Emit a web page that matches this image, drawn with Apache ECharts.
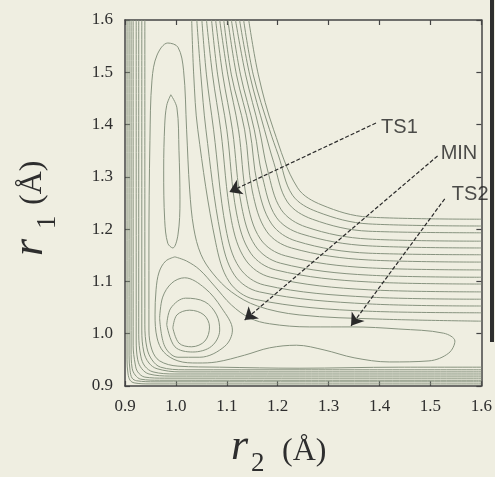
<!DOCTYPE html>
<html>
<head>
<meta charset="utf-8">
<script src="https://cdn.jsdelivr.net/npm/echarts@6/dist/echarts.min.js"></script>
<style>
  html, body { margin: 0; padding: 0; background: #efeee1; }
  #chart { width: 495px; height: 477px; }
</style>
</head>
<body>
<div id="chart"></div>
<script>
// Axis ranges (Å)
const r2Range = [0.9, 1.6];
const r1Range = [0.9, 1.6];
const tickStep = 0.1;

// Repulsive-wall contours wrapping the small-r corner, points as [r2, r1]
const wallContours = [
  [[0.939,1.6],[0.939,1.256],[0.939,1.017],[0.943,0.973],[0.953,0.950],[0.970,0.936],[1.017,0.931],[1.242,0.931],[1.6,0.931]],
  [[0.933,1.6],[0.933,1.256],[0.933,1.007],[0.937,0.965],[0.947,0.944],[0.963,0.933],[1.008,0.927],[1.242,0.927],[1.6,0.927]],
  [[0.927,1.6],[0.927,1.256],[0.927,0.998],[0.931,0.957],[0.939,0.938],[0.955,0.927],[0.998,0.923],[1.242,0.923],[1.6,0.923]],
  [[0.922,1.6],[0.922,1.256],[0.922,0.988],[0.925,0.950],[0.933,0.933],[0.947,0.923],[0.988,0.919],[1.242,0.919],[1.6,0.919]],
  [[0.916,1.6],[0.916,1.256],[0.916,0.978],[0.920,0.942],[0.925,0.927],[0.939,0.917],[0.978,0.915],[1.242,0.915],[1.6,0.915]],
  [[0.912,1.6],[0.912,1.256],[0.912,0.969],[0.914,0.934],[0.920,0.921],[0.931,0.913],[0.968,0.911],[1.242,0.911],[1.6,0.911]],
  [[0.908,1.6],[0.908,1.256],[0.908,0.959],[0.910,0.929],[0.914,0.915],[0.923,0.910],[0.959,0.908],[1.242,0.908],[1.6,0.908]],
  [[0.904,1.6],[0.904,1.256],[0.904,0.950],[0.906,0.923],[0.910,0.911],[0.918,0.906],[0.949,0.904],[1.242,0.904],[1.6,0.904]]
];

// Contours bending round the high plateau at large r1 and r2
const plateauContours = [
  [[1.031,1.6],[1.035,1.495],[1.043,1.390],[1.078,1.175],[1.105,1.099],[1.154,1.066],[1.379,1.043],[1.6,1.040]],
  [[1.041,1.6],[1.049,1.495],[1.059,1.390],[1.088,1.189],[1.115,1.112],[1.164,1.080],[1.379,1.057],[1.6,1.053]],
  [[1.051,1.6],[1.060,1.495],[1.074,1.390],[1.098,1.202],[1.125,1.126],[1.174,1.093],[1.379,1.070],[1.6,1.066]],
  [[1.060,1.6],[1.072,1.495],[1.088,1.390],[1.109,1.217],[1.137,1.141],[1.186,1.108],[1.379,1.084],[1.6,1.080]],
  [[1.070,1.6],[1.082,1.495],[1.100,1.390],[1.119,1.231],[1.147,1.154],[1.196,1.122],[1.379,1.099],[1.6,1.095]],
  [[1.078,1.6],[1.092,1.495],[1.111,1.390],[1.129,1.244],[1.156,1.168],[1.205,1.135],[1.379,1.112],[1.6,1.108]],
  [[1.086,1.6],[1.102,1.495],[1.123,1.390],[1.139,1.258],[1.166,1.181],[1.215,1.149],[1.379,1.126],[1.6,1.122]],
  [[1.094,1.6],[1.109,1.495],[1.135,1.390],[1.150,1.273],[1.178,1.196],[1.227,1.164],[1.379,1.141],[1.6,1.137]],
  [[1.102,1.6],[1.119,1.495],[1.145,1.390],[1.160,1.286],[1.188,1.210],[1.237,1.177],[1.379,1.154],[1.6,1.151]],
  [[1.109,1.6],[1.127,1.495],[1.154,1.390],[1.170,1.300],[1.197,1.223],[1.246,1.191],[1.379,1.168],[1.6,1.164]],
  [[1.117,1.6],[1.137,1.495],[1.164,1.390],[1.180,1.313],[1.207,1.237],[1.256,1.204],[1.379,1.181],[1.6,1.177]],
  [[1.125,1.6],[1.145,1.495],[1.174,1.390],[1.192,1.328],[1.219,1.252],[1.268,1.219],[1.379,1.196],[1.6,1.193]],
  [[1.133,1.6],[1.152,1.495],[1.184,1.390],[1.201,1.342],[1.229,1.265],[1.278,1.233],[1.379,1.210],[1.6,1.206]],
  [[1.143,1.6],[1.162,1.495],[1.192,1.390],[1.239,1.279],[1.287,1.246],[1.379,1.223],[1.6,1.219]]
];

// Contour that encloses all three wells (open at the r2 = 1.6 edge)
const channelContour = [
  [1.6,0.936],[1.438,0.936],[1.242,0.934],[1.086,0.936],[1.004,0.938],[0.968,0.948],[0.953,0.969],
  [0.947,1.007],[0.947,1.160],[0.949,1.370],[0.953,1.485],[0.963,1.533],[0.984,1.556],[1.004,1.548],
  [1.015,1.504],[1.021,1.390],[1.027,1.275],[1.035,1.202],[1.049,1.152],[1.072,1.116],[1.109,1.080],
  [1.160,1.053],[1.242,1.036],[1.399,1.028],[1.6,1.024]
];

// Closed contour inside the r1 channel
const r1WellContour = [
  [0.990,1.457],[1.002,1.432],[1.006,1.351],[1.008,1.256],[1.004,1.189],[0.994,1.164],[0.984,1.173],
  [0.978,1.217],[0.976,1.313],[0.978,1.399],[0.982,1.437],[0.990,1.457]
];

// Contour around the MIN well reaching into the r2 channel
const lowerContour = [
  [0.998,1.147],[0.980,1.139],[0.967,1.118],[0.961,1.084],[0.959,1.036],[0.963,0.992],[0.976,0.965],
  [1.004,0.948],[1.043,0.944],[1.080,0.946],[1.135,0.959],[1.184,0.973],[1.237,0.978],[1.291,0.969],
  [1.350,0.954],[1.419,0.946],[1.497,0.948],[1.536,0.963],[1.548,0.986],[1.526,1.001],[1.438,1.009],
  [1.346,1.013],[1.262,1.013],[1.184,1.019],[1.145,1.030],[1.109,1.055],[1.076,1.091],[1.047,1.122],
  [1.021,1.139],[0.998,1.147]
];

// Rings round the minimum
const minRings = [
  [[0.994,1.011],[1.002,1.036],[1.027,1.045],[1.055,1.036],[1.066,1.013],[1.057,0.986],[1.031,0.975],[1.006,0.982],[0.994,1.011]],
  [[0.982,1.017],[0.990,1.049],[1.019,1.068],[1.057,1.061],[1.080,1.036],[1.086,1.007],[1.070,0.976],[1.033,0.965],[0.998,0.975],[0.982,1.017]],
  [[0.968,1.030],[0.974,1.070],[0.992,1.097],[1.017,1.107],[1.057,1.087],[1.090,1.049],[1.111,1.007],[1.096,0.976],[1.047,0.955],[1.004,0.955],[0.978,0.976],[0.968,1.030]]
];

// Stationary-point annotations
const markerNames   = ['TS1', 'MIN', 'TS2'];
const markerLabelAt = [[1.403, 1.395], [1.520, 1.344], [1.542, 1.267]];
const markerTail    = [[1.393, 1.403], [1.514, 1.340], [1.528, 1.258]];
const markerTip     = [[1.105, 1.271], [1.135, 1.026], [1.344, 1.015]];

const contourColor = '#87937f';
const frameColor = '#444';
const serif = 'Liberation Serif';

const allContours = [].concat(wallContours, plateauContours,
  [channelContour, r1WellContour, lowerContour], minRings);

const contourSeries = allContours.map(function (pts) {
  return {
    type: 'line',
    data: pts,
    smooth: 0.35,
    symbol: 'none',
    silent: true,
    clip: true,
    lineStyle: { color: contourColor, width: 1 },
    z: 2
  };
});

const annotationSeries = {
  type: 'scatter',
  symbolSize: 0,
  silent: true,
  z: 5,
  data: markerNames.map(function (n, i) { return { name: n, value: markerLabelAt[i] }; }),
  label: {
    show: true,
    formatter: '{b}',
    position: 'right',
    distance: 0,
    fontFamily: 'Liberation Sans',
    fontSize: 20,
    color: '#222'
  },
  markLine: {
    silent: true,
    animation: false,
    symbol: ['none', 'arrow'],
    symbolSize: 12,
    label: { show: false },
    lineStyle: { color: '#2a2a2a', width: 1.2, type: [4, 2] },
    data: markerTail.map(function (t, i) {
      return [{ coord: t }, { coord: markerTip[i] }];
    })
  }
};

function axisCommon(pos, showLabel, range) {
  return {
    type: 'value',
    position: pos,
    min: range[0],
    max: range[1],
    interval: tickStep,
    splitLine: { show: false },
    axisLine: { show: true, onZero: false, lineStyle: { color: frameColor, width: 1.5 } },
    axisTick: { show: true, inside: true, length: 5, lineStyle: { color: frameColor, width: 1.2 } },
    axisLabel: {
      show: showLabel,
      fontFamily: serif,
      fontSize: 17,
      color: '#2e2e2e',
      margin: 12,
      formatter: function (v) { return v.toFixed(1); }
    }
  };
}

const chart = echarts.init(document.getElementById('chart'), null, { renderer: 'canvas' });
chart.setOption({
  animation: false,
  backgroundColor: '#efeee1',
  grid: { left: 125, right: 12, top: 20, bottom: 91, containLabel: false },
  xAxis: [axisCommon('bottom', true, r2Range), axisCommon('top', false, r2Range)],
  yAxis: [axisCommon('left', true, r1Range), axisCommon('right', false, r1Range)],
  series: contourSeries.concat([annotationSeries]),
  graphic: [
    { type: 'rect', shape: { x: 490, y: 0, width: 4, height: 342 }, style: { fill: '#2e2e2e' }, silent: true },
    // r2 axis title
    { type: 'text', x: 231, y: 447, style: { text: 'r', font: 'italic 44px "Liberation Serif"', fill: '#2e2e2e', textAlign: 'left', textVerticalAlign: 'middle' } },
    { type: 'text', x: 251, y: 464, style: { text: '2', font: '27px "Liberation Serif"', fill: '#2e2e2e', textAlign: 'left', textVerticalAlign: 'middle' } },
    { type: 'text', x: 282, y: 452, style: { text: '(Å)', font: '32px "Liberation Serif"', fill: '#2e2e2e', textAlign: 'left', textVerticalAlign: 'middle' } },
    // r1 axis title, reading upward
    { type: 'text', x: 30, y: 256, rotation: Math.PI / 2, style: { text: 'r', font: 'italic 44px "Liberation Serif"', fill: '#2e2e2e', textAlign: 'left', textVerticalAlign: 'middle' } },
    { type: 'text', x: 48, y: 229, rotation: Math.PI / 2, style: { text: '1', font: '27px "Liberation Serif"', fill: '#2e2e2e', textAlign: 'left', textVerticalAlign: 'middle' } },
    { type: 'text', x: 33, y: 205, rotation: Math.PI / 2, style: { text: '(Å)', font: '32px "Liberation Serif"', fill: '#2e2e2e', textAlign: 'left', textVerticalAlign: 'middle' } }
  ]
});
</script>
</body>
</html>
